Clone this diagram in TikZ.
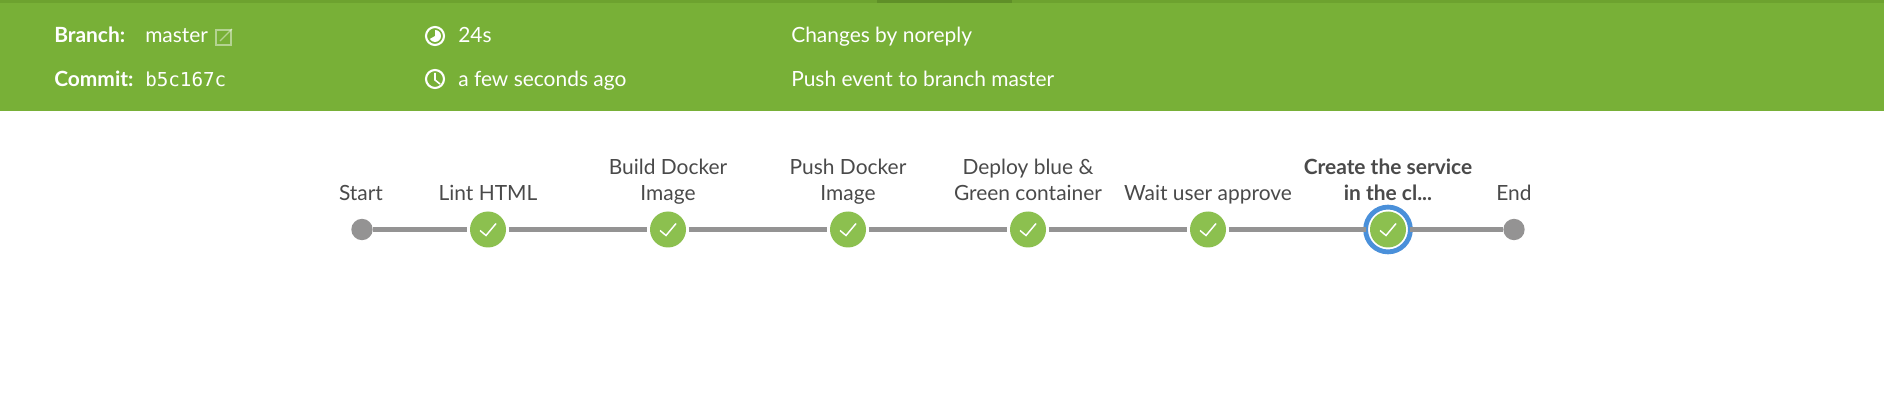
\documentclass[tikz,border=0pt]{standalone}
\usepackage{fontspec}
\setmainfont{Lato}
\setmonofont{DejaVu Sans Mono}
\usetikzlibrary{positioning}

\definecolor{bandgreen}{HTML}{78B037}
\definecolor{stripgreen}{HTML}{6DA22F}
\definecolor{tabgreen}{HTML}{5F8F28}
\definecolor{stepgreen}{HTML}{8CC04F}
\definecolor{bargray}{HTML}{949393}
\definecolor{ringblue}{HTML}{4A90DA}
\definecolor{labelgray}{HTML}{4A4A4A}

\tikzset{
    info/.style={anchor=base west,inner sep=0pt,text=white,font=\fontsize{15.7}{17}\selectfont},
    infobold/.style={info,font=\fontsize{15.7}{17}\selectfont\bfseries},
    step label/.style={anchor=south,inner sep=0pt,align=center,text=labelgray,
        font=\fontsize{15.7}{19.6}\selectfont,execute at end node={\strut}},
    stepdone/.style={circle,fill=stepgreen,minimum size=27pt,inner sep=0pt,outer sep=2.2pt},
    endpoint/.style={circle,fill=bargray,minimum size=16pt,inner sep=0pt,outer sep=0pt},
    activering/.style={circle,draw=ringblue,line width=3.6pt,minimum size=33.6pt,inner sep=0pt,outer sep=0pt},
    bar/.style={bargray,line width=4.2pt},
    tick/.style={white,line width=1.1pt}
}

\begin{document}
\begin{tikzpicture}[x=0.75pt,y=-0.75pt]
    % Page and header band
    \def\w{1884}
    \def\h{413}
    \def\ybar{229.5}
    \def\ytop{42.5}
    \def\ylow{87}
    \def\ylabel{208.6}
    \useasboundingbox (0,0) rectangle (\w,\h);
    \fill[white] (0,0) rectangle (\w,\h);
    \fill[bandgreen] (0,0) rectangle (\w,111);
    \fill[stripgreen] (0,0) rectangle (\w,3);
    \fill[tabgreen] (877,0) rectangle (1012,3);

    % Header texts
    \node[infobold] (branch) at (54,\ytop) {Branch:};
    \node[info] (master) at (145,\ytop) {master};
    \node[infobold] (commit) at (54,\ylow) {Commit:};
    \node[info,font=\fontsize{14.4}{17}\ttfamily] (hash) at (145,\ylow) {b5c167c};
    \node[info] (duration) at (458,\ytop) {24s};
    \node[info] (ago) at (458,\ylow) {a few seconds ago};
    \node[info] (changes) at (791,\ytop) {Changes by noreply};
    \node[info] (event) at (791,\ylow) {Push event to branch master};

    % Link icon
    \draw[white,opacity=0.45,line width=0.9pt] (216,30) rectangle (231,45);
    \draw[white,opacity=0.45,line width=0.9pt] (220,41) -- (232,29);

    % Duration icon
    \draw[white,line width=1.6pt] (435,36) circle (9);
    \fill[white] (435,36) -- (435,30) arc (-90:150:6) -- cycle;

    % Clock icon
    \draw[white,line width=1.6pt] (435,79) circle (9);
    \draw[white,line width=1.2pt] (435,73) -- (435,80) -- (440,84);

    % Steps, from left to right
    \node[endpoint] (Cstart) at (362,\ybar) {};
    \foreach \i/\x in {1/488,2/668,3/848,4/1028,5/1208,6/1388}
        \node[stepdone] (C\i) at (\x,\ybar) {};
    \node[activering] (Cring) at (1388,\ybar) {};
    \node[endpoint] (Cend) at (1514,\ybar) {};

    % Bars between the steps
    \draw[bar] (Cstart) -- (C1);
    \foreach \a/\b in {1/2,2/3,3/4,4/5}
        \draw[bar] (C\a) -- (C\b);
    \draw[bar] (C5) -- (Cring);
    \draw[bar] (Cring) -- (Cend);

    % Ticks
    \foreach \i in {1,...,6}
        \draw[tick] ([shift={(-8,1)}]C\i.center) -- ([shift={(-2,6)}]C\i.center) -- ([shift={(8,-6)}]C\i.center);

    % Step labels
    \node[step label] (Lstart) at (361,\ylabel) {Start};
    \node[step label] (L1) at (488,\ylabel) {Lint HTML};
    \node[step label] (L2) at (668,\ylabel) {Build Docker\\Image};
    \node[step label] (L3) at (848,\ylabel) {Push Docker\\Image};
    \node[step label] (L4) at (1028,\ylabel) {Deploy blue \&\\Green container};
    \node[step label] (L5) at (1208,\ylabel) {Wait user approve};
    \node[step label,font=\fontsize{15.7}{19.6}\selectfont\bfseries] (L6) at (1388,\ylabel) {Create the service\\in the cl...};
    \node[step label] (Lend) at (1514,\ylabel) {End};
\end{tikzpicture}
\end{document}
